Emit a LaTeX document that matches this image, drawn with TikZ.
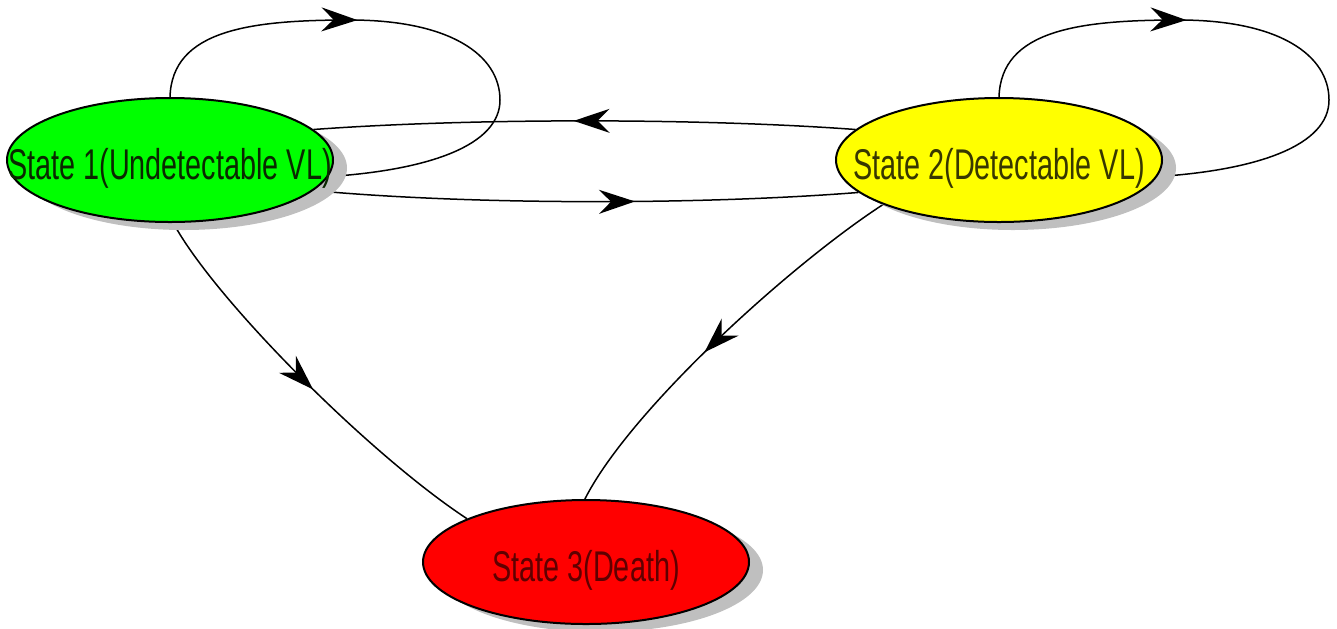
\documentclass[tikz,border=0pt]{standalone}
\usepackage{fontspec}
\newfontfamily\labfont[FakeStretch=0.67]{Liberation Sans}
\usetikzlibrary{shapes.geometric,shadows,arrows.meta,decorations.markings,backgrounds}
\definecolor{sgreen}{RGB}{0,255,0}
\definecolor{syellow}{RGB}{255,255,0}
\definecolor{sred}{RGB}{255,0,0}
\definecolor{tgreen}{RGB}{10,40,0}
\definecolor{tyellow}{RGB}{55,55,0}
\definecolor{tred}{RGB}{95,0,0}
\newcommand{\statelabel}[1]{\makebox[0pt]{\raisebox{-9.6pt}[0pt][0pt]{#1}}}
\begin{document}
\begin{tikzpicture}[x=0.5pt,y=-0.5pt,
  state/.style={ellipse, draw=black, line width=1pt, minimum width=163pt, minimum height=62pt,
    inner sep=0pt, drop shadow={shadow xshift=7pt, shadow yshift=-4pt, fill=black!25, opacity=1},
    font=\labfont\fontsize{21.5}{24}\selectfont},
  edge/.style={draw=black, line width=0.75pt},
  midarrow/.style={postaction={decorate}, decoration={markings,
    mark=at position #1 with {\arrow{Stealth[length=18pt,width=12pt,inset=6pt]}}}}
]
\useasboundingbox (0,0) rectangle (1337,628);
\node[state, fill=sgreen, text=tgreen] (s1) at (170,160) {\statelabel{State 1(Undetectable VL)}};
\node[state, fill=syellow, text=tyellow] (s2) at (999,160) {\statelabel{State 2(Detectable VL)}};
\node[state, fill=sred, text=tred] (s3) at (586,562) {\statelabel{State 3(Death)}};
\begin{pgfonlayer}{background}
\draw[edge, midarrow=0.37] (s1.90) .. controls (172,30) and (250,20) .. (350,20)
  .. controls (450,20) and (500,55) .. (500,100) .. controls (500,145) and (430,170) .. (s1.-6);
\draw[edge, midarrow=0.37] (s2.90) .. controls (1001,30) and (1079,20) .. (1179,20)
  .. controls (1279,20) and (1329,55) .. (1329,100) .. controls (1329,145) and (1259,170) .. (s2.-6);
\draw[edge, midarrow=0.52] (s2.168) .. controls (700,118) and (470,118) .. (s1.12);
\draw[edge, midarrow=0.59] (s1.-12) .. controls (470,205) and (700,205) .. (s2.193);
\draw[edge, midarrow=0.52] (s1.-87) .. controls (215,300) and (370,455) .. (s3.160);
\draw[edge, midarrow=0.55] (s2.201) .. controls (790,265) and (630,410) .. (s3.91);
\end{pgfonlayer}
\end{tikzpicture}
\end{document}
